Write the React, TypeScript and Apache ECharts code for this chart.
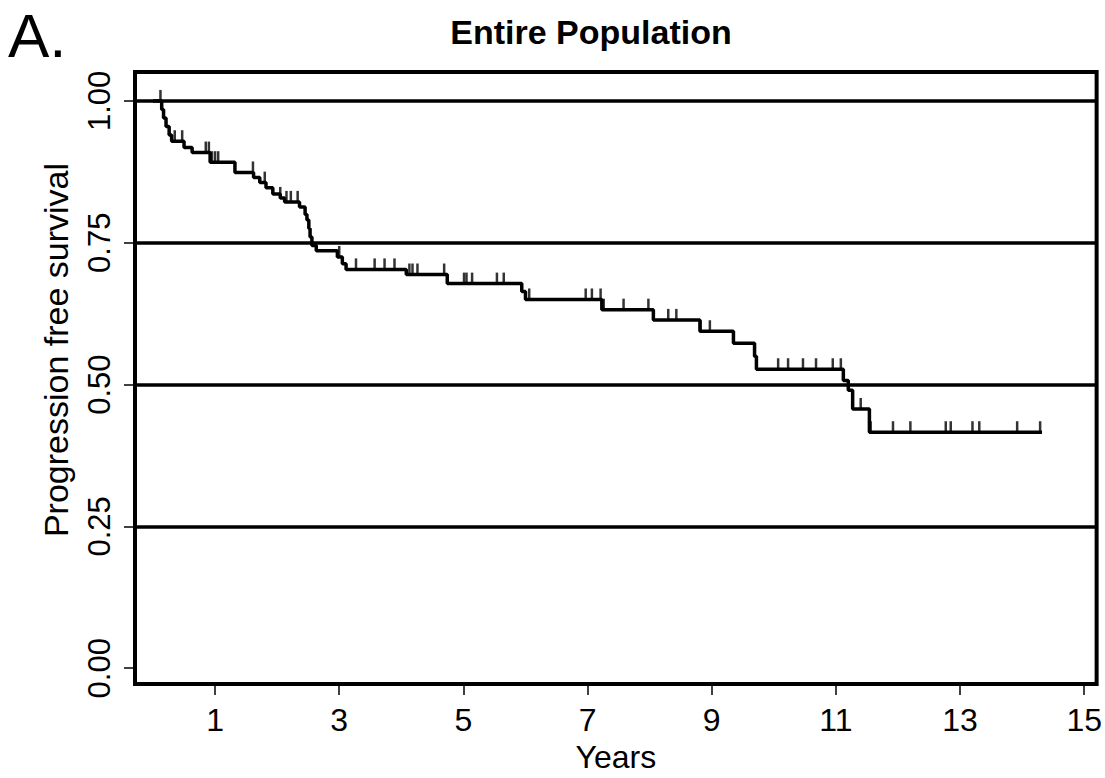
import React, { useEffect, useRef } from "react";
import * as echarts from "echarts";

// Kaplan-Meier step points: time (years) and survival from that time onward
const stepTimes = [0, 0.14, 0.17, 0.21, 0.26, 0.3, 0.5, 0.63, 0.92, 1.32, 1.62, 1.72, 1.82, 1.93, 2.05, 2.12, 2.36, 2.45, 2.48, 2.51, 2.53, 2.56, 2.63, 2.97, 3.05, 3.11, 4.08, 4.74, 5.94, 6.0, 7.23, 8.06, 8.81, 9.35, 9.69, 9.72, 11.12, 11.2, 11.27, 11.54, 14.32];
const stepSurvival = [1.0, 0.985, 0.97, 0.955, 0.94, 0.929, 0.918, 0.909, 0.892, 0.874, 0.865, 0.856, 0.847, 0.836, 0.829, 0.822, 0.813, 0.8, 0.79, 0.775, 0.76, 0.745, 0.736, 0.725, 0.713, 0.703, 0.694, 0.678, 0.664, 0.65, 0.632, 0.614, 0.594, 0.573, 0.55, 0.527, 0.507, 0.49, 0.457, 0.416, 0.416];

// Censored observation times (years)
const censorTimes = [0.12, 0.35, 0.47, 0.85, 0.9, 0.95, 1.0, 1.05, 1.61, 1.8, 2.05, 2.15, 2.22, 2.33, 3.0, 3.27, 3.57, 3.73, 3.89, 4.13, 4.18, 4.26, 4.69, 5.01, 5.05, 5.14, 5.54, 5.65, 6.06, 6.97, 7.07, 7.21, 7.26, 7.58, 7.98, 8.3, 8.43, 8.82, 8.97, 9.69, 10.07, 10.23, 10.47, 10.68, 10.95, 11.08, 11.4, 11.56, 11.92, 12.2, 12.77, 12.85, 13.2, 13.31, 13.92, 14.29];

const xTickValues = [1, 3, 5, 7, 9, 11, 13, 15];
const yTickValues = [0, 0.25, 0.5, 0.75, 1.0];
const refLines = [0.25, 0.5, 0.75, 1.0];

function survivalAt(t: number): number {
  let s = stepSurvival[0];
  for (let i = 0; i < stepTimes.length; i++) {
    if (stepTimes[i] <= t) s = stepSurvival[i];
  }
  return s;
}

const FONT = "Liberation Sans, Arial, Helvetica, sans-serif";

export default function App() {
  const ref = useRef<HTMLDivElement>(null);
  useEffect(() => {
    if (!ref.current) return;
    const chart = echarts.init(ref.current, undefined, { renderer: "svg" });
    const curve = stepTimes.map((t, i) => [t, stepSurvival[i]]);
    const censor = censorTimes.map((t) => [t, survivalAt(t)]);
    chart.setOption({
      animation: false,
      backgroundColor: "#fff",
      textStyle: { fontFamily: FONT, color: "#000" },
      grid: {
        left: 135,
        right: 6,
        top: 72,
        bottom: 89,
        show: true,
        borderColor: "#000",
        borderWidth: 4,
        backgroundColor: "transparent",
      },
      graphic: [
        {
          type: "text",
          left: 8,
          top: 4,
          style: { text: "A.", font: `62px ${FONT}`, fill: "#000" },
        },
        {
          type: "text",
          x: 591,
          y: 32,
          style: {
            text: "Entire Population",
            font: `bold 34px ${FONT}`,
            fill: "#000",
            textAlign: "center",
            textVerticalAlign: "middle",
          },
        },
        {
          type: "text",
          x: 56,
          y: 350,
          rotation: Math.PI / 2,
          style: {
            text: "Progression free survival",
            font: `34px ${FONT}`,
            fill: "#000",
            textAlign: "center",
            textVerticalAlign: "middle",
          },
        },
      ],
      xAxis: {
        type: "value",
        min: -0.29,
        max: 15.2,
        name: "Years",
        nameLocation: "middle",
        nameGap: 41,
        nameTextStyle: { fontSize: 32, color: "#000", fontFamily: FONT },
        axisLine: { show: false, onZero: false },
        splitLine: { show: false },
        axisTick: {
          show: true,
          customValues: xTickValues,
          length: 11,
          lineStyle: { color: "#000", width: 1.5 },
        },
        axisLabel: {
          customValues: xTickValues,
          fontSize: 32,
          color: "#000",
          margin: 20,
          fontFamily: FONT,
        },
      },
      yAxis: {
        type: "value",
        min: -0.028,
        max: 1.051,
        axisLine: { show: false, onZero: false },
        splitLine: { show: false },
        axisTick: {
          show: true,
          customValues: yTickValues,
          length: 11,
          lineStyle: { color: "#000", width: 1.5 },
        },
        axisLabel: {
          customValues: yTickValues,
          formatter: (v: number) => v.toFixed(2),
          rotate: 90,
          fontSize: 31,
          color: "#000",
          margin: 20,
          fontFamily: FONT,
        },
      },
      series: [
        {
          type: "line",
          step: "end",
          data: curve,
          symbol: "none",
          lineStyle: { color: "#000", width: 3.5 },
          markLine: {
            silent: true,
            symbol: "none",
            label: { show: false },
            lineStyle: { color: "#000", width: 3.5, type: "solid" },
            data: refLines.map((v) => ({ yAxis: v })),
          },
          z: 3,
        },
        {
          type: "scatter",
          data: censor,
          symbol: "rect",
          symbolSize: [2.5, 12],
          symbolOffset: [0, -5],
          itemStyle: { color: "#000" },
          z: 4,
        },
      ],
    });
    return () => chart.dispose();
  }, []);
  return (
    <div
      ref={ref}
      style={{ position: "absolute", left: 0, top: 0, width: 1105, height: 778 }}
    />
  );
}
